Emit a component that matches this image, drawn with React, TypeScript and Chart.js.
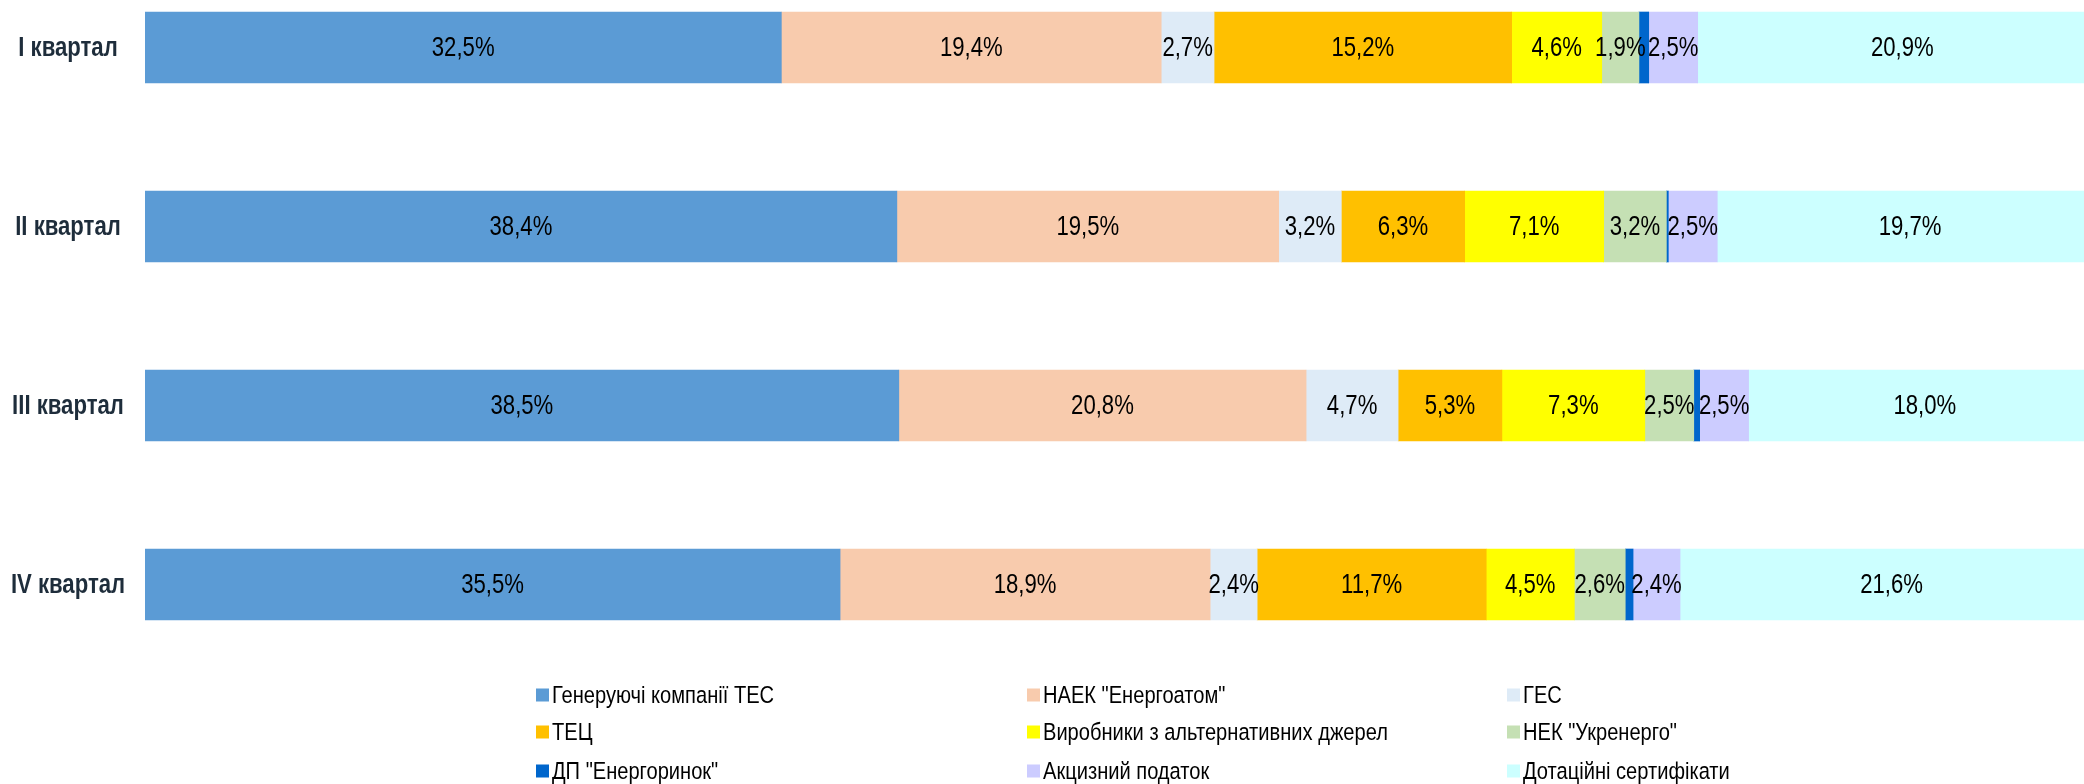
import React, { useEffect, useRef } from "react";
import { Chart, registerables } from "chart.js";

Chart.register(...registerables);

const categories = ["I квартал", "II квартал", "III квартал", "IV квартал"];

const seriesNames = [
  "Генеруючі компанії ТЕС",
  "НАЕК \"Енергоатом\"",
  "ГЕС",
  "ТЕЦ",
  "Виробники з альтернативних джерел",
  "НЕК \"Укренерго\"",
  "ДП \"Енергоринок\"",
  "Акцизний податок",
  "Дотаційні сертифікати",
];

const seriesColors = [
  "#5B9BD5",
  "#F8CBAD",
  "#DEEBF7",
  "#FFC000",
  "#FFFF00",
  "#C5E0B4",
  "#0066CC",
  "#CCCCFF",
  "#CCFFFF",
];

const tesValues = [32.5, 38.4, 38.5, 35.5];
const energoatomValues = [19.4, 19.5, 20.8, 18.9];
const gesValues = [2.7, 3.2, 4.7, 2.4];
const tecValues = [15.2, 6.3, 5.3, 11.7];
const alternativeValues = [4.6, 7.1, 7.3, 4.5];
const ukrenergoValues = [1.9, 3.2, 2.5, 2.6];
const energorynokValues = [0.5, 0.1, 0.3, 0.4];
const excideValues = [2.5, 2.5, 2.5, 2.4];
const certificateValues = [20.9, 19.7, 18.0, 21.6];

const seriesValues = [
  tesValues,
  energoatomValues,
  gesValues,
  tecValues,
  alternativeValues,
  ukrenergoValues,
  energorynokValues,
  excideValues,
  certificateValues,
];

// series whose in-bar label is not shown
const hiddenLabelSeries = [6];

const FONT = '"Liberation Sans", Arial, sans-serif';
const NARROW_SCALE = 0.82;
const CANVAS_W = 2084;
const CANVAS_H = 826;
const SHIFT = 42;

function narrowText(ctx: any, text: string, x: number, y: number, align: string) {
  ctx.save();
  ctx.translate(x, y);
  ctx.scale(NARROW_SCALE, 1);
  ctx.textAlign = align;
  ctx.fillText(text, 0, 0);
  ctx.restore();
}

const labelPlugin = {
  id: "barLabels",
  afterDatasetsDraw(chart: any) {
    const ctx = chart.ctx;
    const area = chart.chartArea;
    ctx.save();
    ctx.beginPath();
    ctx.rect(area.left, area.top, area.right - area.left, area.bottom - area.top);
    ctx.clip();
    ctx.font = `27px ${FONT}`;
    ctx.fillStyle = "#000000";
    ctx.textBaseline = "middle";
    chart.data.datasets.forEach((ds: any, i: number) => {
      if (hiddenLabelSeries.includes(i)) return;
      const meta = chart.getDatasetMeta(i);
      meta.data.forEach((el: any, j: number) => {
        const { x, y, base } = el.getProps(["x", "y", "base"], true);
        const v = ds.data[j] as number;
        narrowText(ctx, v.toFixed(1).replace(".", ",") + "%", (x + base) / 2, y + 1, "center");
      });
    });
    ctx.restore();

    // category labels
    const yScale = chart.scales.y;
    ctx.save();
    ctx.font = `bold 27px ${FONT}`;
    ctx.fillStyle = "#1E2D3B";
    ctx.textBaseline = "middle";
    chart.data.labels.forEach((lab: string, i: number) => {
      narrowText(ctx, lab, 68, yScale.getPixelForTick(i) + 1, "center");
    });
    ctx.restore();
  },
};

const legendPlugin = {
  id: "gridLegend",
  afterDraw(chart: any) {
    const ctx = chart.ctx;
    const colX = [536, 1027, 1507];
    const rowY = [695 + SHIFT, 732 + SHIFT, 771 + SHIFT];
    const box = 13;
    ctx.save();
    ctx.font = `24.5px ${FONT}`;
    ctx.textBaseline = "middle";
    chart.data.datasets.forEach((ds: any, i: number) => {
      const cx = colX[i % 3];
      const cy = rowY[Math.floor(i / 3)];
      ctx.fillStyle = ds.backgroundColor;
      ctx.fillRect(cx, cy - box / 2, box, box);
      ctx.fillStyle = "#000000";
      narrowText(ctx, ds.label, cx + box + 3, cy + 1, "left");
    });
    ctx.restore();
  },
};

export default function App() {
  const canvasRef = useRef<HTMLCanvasElement | null>(null);

  useEffect(() => {
    document.body.style.margin = "0";
    const canvas = canvasRef.current;
    if (!canvas) return;
    const chart = new Chart(canvas, {
      type: "bar",
      data: {
        labels: categories,
        datasets: seriesNames.map((name, i) => ({
          label: name,
          data: seriesValues[i],
          backgroundColor: seriesColors[i],
          borderWidth: 0,
          barThickness: 71,
        })),
      },
      options: {
        indexAxis: "y",
        responsive: false,
        animation: false,
        devicePixelRatio: 1,
        layout: { padding: { left: 0, right: 0, top: 0, bottom: CANVAS_H - 716 } },
        plugins: {
          legend: { display: false },
          tooltip: { enabled: false },
          title: { display: false },
        },
        scales: {
          x: {
            stacked: true,
            min: 0,
            max: 99.03,
            display: false,
          },
          y: {
            stacked: true,
            grid: { display: false, drawTicks: false },
            border: { display: false },
            afterFit(scale: any) {
              scale.width = 145;
              scale.paddingTop = 0;
              scale.paddingBottom = 0;
            },
            ticks: { display: false },
          },
        },
      } as any,
      plugins: [labelPlugin, legendPlugin],
    });
    return () => chart.destroy();
  }, []);

  return (
    <div style={{ position: "relative", width: CANVAS_W, height: 784, overflow: "hidden", background: "#ffffff" }}>
      <canvas
        ref={canvasRef}
        width={CANVAS_W}
        height={CANVAS_H}
        style={{ position: "absolute", left: 0, top: -SHIFT, width: CANVAS_W, height: CANVAS_H }}
      />
    </div>
  );
}
